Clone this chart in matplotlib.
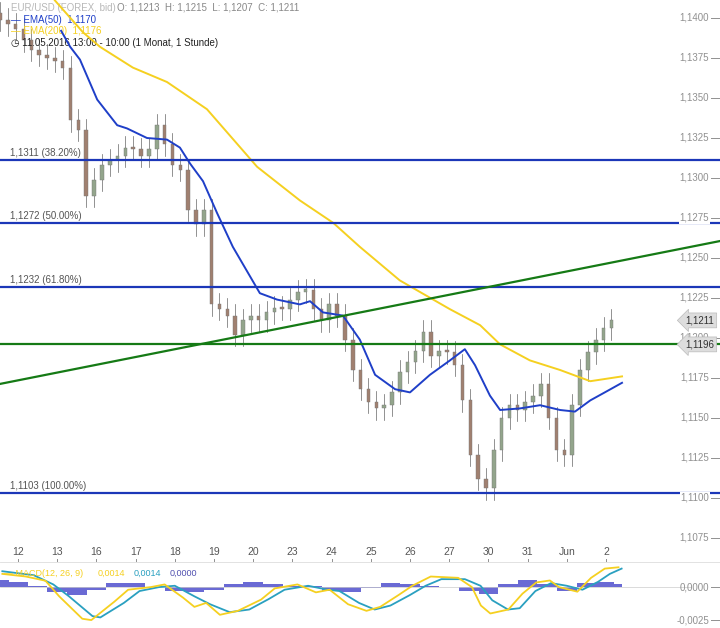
import numpy as np
import matplotlib.pyplot as plt
from matplotlib.transforms import blended_transform_factory as blend

plt.rcParams['font.family'] = ['Liberation Sans', 'DejaVu Sans']

# --- data (time in trading days from May 12, prices EUR/USD) ---
t0 = -0.46
step = 0.2
closes = [1.1399, 1.1396, 1.1393, 1.1386, 1.1380, 1.1377, 1.1375, 1.1373, 1.1369, 1.1336,
          1.1330, 1.1289, 1.1299, 1.1308, 1.1311, 1.1314, 1.1319, 1.1318, 1.1314, 1.1318,
          1.1333, 1.1321, 1.1308, 1.1305, 1.1280, 1.1271, 1.1280, 1.1221, 1.1218, 1.1214,
          1.1202, 1.1211, 1.1214, 1.1211, 1.1216, 1.1219, 1.1218, 1.1224, 1.1229, 1.1230,
          1.1218, 1.1211, 1.1221, 1.1214, 1.1199, 1.1180, 1.1168, 1.1160, 1.1156, 1.1158,
          1.1166, 1.1179, 1.1185, 1.1192, 1.1204, 1.1189, 1.1192, 1.1191, 1.1183, 1.1161,
          1.1127, 1.1112, 1.1106, 1.1130, 1.1150, 1.1158, 1.1155, 1.1160, 1.1164, 1.1171,
          1.1150, 1.1130, 1.1127, 1.1158, 1.1180, 1.1191, 1.1199, 1.1206, 1.1211]

ema50_t = [1.1, 1.33, 1.58, 2.02, 2.53, 2.78, 3.29, 3.8, 4.13, 4.39, 4.72, 5.08, 5.48, 6.17,
           6.61, 7.19, 7.45, 7.78, 8.29, 8.72, 9.11, 9.62, 10.0, 10.51, 11.02, 11.4, 11.66,
           12.04, 12.3, 12.81, 13.32, 13.83, 14.21, 14.6, 14.97, 15.41]
ema50 = [1.1392, 1.1382, 1.1374, 1.1349, 1.1333, 1.1331, 1.1325, 1.1324, 1.1319, 1.1309,
         1.1298, 1.1278, 1.1257, 1.1228, 1.1224, 1.1221, 1.1223, 1.1216, 1.1214, 1.1199,
         1.1177, 1.1168, 1.1166, 1.1177, 1.1186, 1.1193, 1.1183, 1.1164, 1.1155, 1.1156,
         1.1158, 1.1155, 1.1154, 1.1161, 1.1166, 1.1172]
ema200_t = [0.94, 1.66, 2.09, 2.93, 3.8, 4.82, 6.1, 7.19, 8.04, 8.72, 9.74, 11.02, 11.79, 12.3,
            13.06, 13.83, 14.6, 15.41]
ema200 = [1.1411, 1.1391, 1.1382, 1.1369, 1.1360, 1.1343, 1.1307, 1.1286, 1.1272, 1.1257,
          1.1236, 1.1218, 1.1208, 1.1196, 1.1186, 1.1180, 1.1173, 1.1176]

fib_levels = [1.1311, 1.1272, 1.1232, 1.1103]
fib_labels = ['1,1311 (38.20%)', '1,1272 (50.00%)', '1,1232 (61.80%)', '1,1103 (100.00%)']
support = 1.1196
trend_t = [-0.46, 17.91]
trend_p = [1.11713, 1.12606]

day_labels = ['12', '13', '16', '17', '18', '19', '20', '23', '24', '25', '26', '27', '30', '31', 'Jun', '2']
price_ticks = [1.1075, 1.1100, 1.1125, 1.1150, 1.1175, 1.1200, 1.1225, 1.1250, 1.1275,
               1.1300, 1.1325, 1.1350, 1.1375, 1.1400]

macd_t = [-0.4, 0.2, 0.7, 1.05, 1.64, 1.87, 2.46, 2.81, 3.39, 3.74, 4.21, 4.5, 4.8, 5.15, 5.61,
          6.2, 6.55, 7.13, 7.6, 7.95, 8.42, 8.89, 9.24, 9.71, 10.06, 10.53, 11.23, 11.58, 11.81,
          12.05, 12.51, 12.87, 13.22, 13.57, 13.8, 14.27, 14.62, 14.97, 15.32]
macd = [0.0010, 0.0008, 0.00048, -0.0007, -0.0024, -0.0025, -0.0011, -0.0002, 0.0, 0.0002,
        -0.0008, -0.0015, -0.0012, -0.0021, -0.0018, -0.00095, -0.0001, 0.0002, -0.0004, -0.0002,
        -0.0013, -0.0018, -0.0015, -0.0006, 0.0001, 0.0008, 0.0007, 0.0, -0.0014, -0.0020,
        -0.0017, -0.0005, 0.00035, 0.0005, 0.0, -0.00035, 0.0007, 0.0014, 0.0015]
signal_t = [-0.4, 0.4, 0.9, 1.3, 1.9, 2.1, 2.7, 3.1, 3.6, 4.0, 4.5, 4.9, 5.4, 5.9, 6.4, 6.8, 7.4,
            7.9, 8.2, 8.7, 9.1, 9.5, 10.0, 10.4, 10.8, 11.4, 11.8, 12.1, 12.5, 12.8, 13.2, 13.6,
            14.0, 14.4, 14.8, 15.1, 15.4]
signal = [0.0012, 0.0009, 0.0002, -0.0007, -0.0022, -0.0023, -0.0012, -0.0003, 0.0, 0.0001,
          -0.0007, -0.0013, -0.0019, -0.0017, -0.0009, -0.0002, 0.0001, -0.0002, -0.0003, -0.0012,
          -0.0017, -0.0014, -0.0006, 0.0001, 0.0006, 0.0006, 0.0001, -0.0010, -0.0017, -0.0016,
          -0.0003, 0.0003, 0.0001, -0.0002, 0.0004, 0.0010, 0.0014]
hist_t = [-0.46, 0.0, 0.5, 1.0, 1.5, 2.0, 2.5, 3.0, 3.5, 4.0, 4.5, 5.0, 5.5, 6.0, 6.5, 7.0, 7.5,
          8.0, 8.5, 9.0, 9.5, 10.0, 10.5, 11.0, 11.5, 12.0, 12.5, 13.0, 13.5, 14.0, 14.5, 15.0, 15.4]
hist = [0.0005, 0.0004, 0.0001, -0.0004, -0.0006, -0.0002, 0.0003, 0.0003, 0.0, -0.0003, -0.0004,
        -0.0002, 0.0002, 0.0004, 0.0002, 0.0001, 0.0001, -0.0003, -0.0004, -0.0001, 0.0003,
        0.0002, 0.0001, 0.0, -0.0003, -0.0005, 0.0002, 0.0005, 0.0002, -0.0003, 0.0003, 0.0004,
        0.0002]

GREY = '#909090'
BLUE = '#1f3fc8'
YEL = '#f5d020'
GREEN = '#157a15'
XMIN, XMAX = -0.46, 17.91

fig = plt.figure(figsize=(7.2, 6.28), dpi=100)
ax = fig.add_axes([0, 66 / 628, 1, 562 / 628])
ax.set_xlim(XMIN, XMAX)
ax.set_ylim(1.1060, 1.141125)
for s in ax.spines.values():
    s.set_visible(False)
ax.set_xticks([])
ax.set_yticks([])

# candles
ts = t0 + step * np.arange(len(closes))
opens = [closes[0] + 0.0004] + closes[:-1]
for t, o, c in zip(ts, opens, closes):
    hi = max(o, c) + 0.0007
    lo = min(o, c) - 0.0007
    col = '#93a58c' if c >= o else '#a08070'
    ax.plot([t, t], [lo, hi], color='#666666', lw=0.5, zorder=2)
    ax.bar(t, max(abs(c - o), 0.00015), bottom=min(o, c), width=step * 0.45,
           color=col, edgecolor='#777777', lw=0.3, zorder=3)

ax.plot(ema200_t, ema200, color=YEL, lw=1.4, zorder=4)
ax.plot(ema50_t, ema50, color=BLUE, lw=1.4, zorder=4)

for lvl, lab in zip(fib_levels, fib_labels):
    ax.axhline(lvl, color='#1c37b8', lw=1.6, zorder=5)
    ax.text(XMIN + 0.25, lvl + 0.00012, lab, fontsize=7, color='#555555', va='bottom')
ax.axhline(support, color=GREEN, lw=1.6, zorder=5)
ax.plot(trend_t, trend_p, color=GREEN, lw=1.6, zorder=5)

# right price scale
tr = blend(ax.transAxes, ax.transData)
for p in price_ticks:
    ax.text(0.985, p, f'{p:.4f}'.replace('.', ','), transform=tr, ha='right', va='center',
            fontsize=7, color=GREY, zorder=6,
            bbox=dict(facecolor='white', edgecolor='none', pad=0.5))
    ax.plot([0.988, 0.998], [p, p], transform=tr, color=GREY, lw=0.7)
for val in [closes[-1], support]:
    ax.text(0.992, val, f'{val:.4f}'.replace('.', ','), transform=tr, ha='right', va='center',
            fontsize=7, color='#333333', zorder=7,
            bbox=dict(boxstyle='larrow,pad=0.25', facecolor='#dddddd', edgecolor='#bbbbbb', lw=0.5))

# day labels
trx = blend(ax.transData, ax.transAxes)
for i, lab in enumerate(day_labels):
    ax.text(i, 0.018, lab, transform=trx, ha='center', va='center', fontsize=7.5, color='#555555')
    ax.plot([i, i], [0, 0.006], transform=trx, color=GREY, lw=0.7)

# header texts
ax.text(0.015, 0.995, 'EUR/USD (FOREX, bid)', transform=ax.transAxes, fontsize=7,
        color='#b8b8b8', va='top')
ax.text(0.162, 0.995, 'O: 1,1213  H: 1,1215  L: 1,1207  C: 1,1211', transform=ax.transAxes,
        fontsize=7, color='#888888', va='top')
ax.text(0.015, 0.974, '\u2014 EMA(50)  1,1170', transform=ax.transAxes, fontsize=7,
        color=BLUE, va='top')
ax.text(0.015, 0.953, '\u2014 EMA(200)  1,1176', transform=ax.transAxes, fontsize=7,
        color=YEL, va='top')
ax.text(0.015, 0.932, '\u25F7 11.05.2016 13:00 - 10:00 (1 Monat, 1 Stunde)', transform=ax.transAxes,
        fontsize=7, color='#222222', va='top')

# MACD panel
mx = fig.add_axes([0, 0, 1, 66 / 628])
mx.set_xlim(XMIN, XMAX)
mx.set_ylim(-0.0031, 0.0019)
for s in mx.spines.values():
    s.set_visible(False)
mx.set_xticks([])
mx.set_yticks([])
mx.axhline(0, xmin=0, xmax=0.96, color='#cccccc', lw=0.5)
mx.fill_between(hist_t, hist, 0, step='mid', color='#5a5ad0', alpha=0.9, lw=0)
mx.plot(signal_t, signal, color='#2aa0c0', lw=1.3)
mx.plot(macd_t, macd, color=YEL, lw=1.3)
trm = blend(mx.transAxes, mx.transData)
for v, lab in [(0.0, '0,0000'), (-0.0025, '-0,0025')]:
    mx.text(0.985, v, lab, transform=trm, ha='right', va='center', fontsize=7, color=GREY)
    mx.plot([0.988, 0.998], [v, v], transform=trm, color=GREY, lw=0.7)
mx.text(0.005, 0.9, '\u2014 MACD(12, 26, 9)', transform=mx.transAxes, fontsize=6.5,
        color=YEL, va='top')
mx.text(0.135, 0.9, '0,0014', transform=mx.transAxes, fontsize=6.5, color=YEL, va='top')
mx.text(0.185, 0.9, '0,0014', transform=mx.transAxes, fontsize=6.5, color='#2aa0c0', va='top')
mx.text(0.235, 0.9, '0,0000', transform=mx.transAxes, fontsize=6.5, color='#5050b0', va='top')
fig.add_artist(plt.Line2D([0, 1], [66 / 628, 66 / 628], color='#dddddd', lw=0.6))

fig.savefig('out.png', dpi=100)
